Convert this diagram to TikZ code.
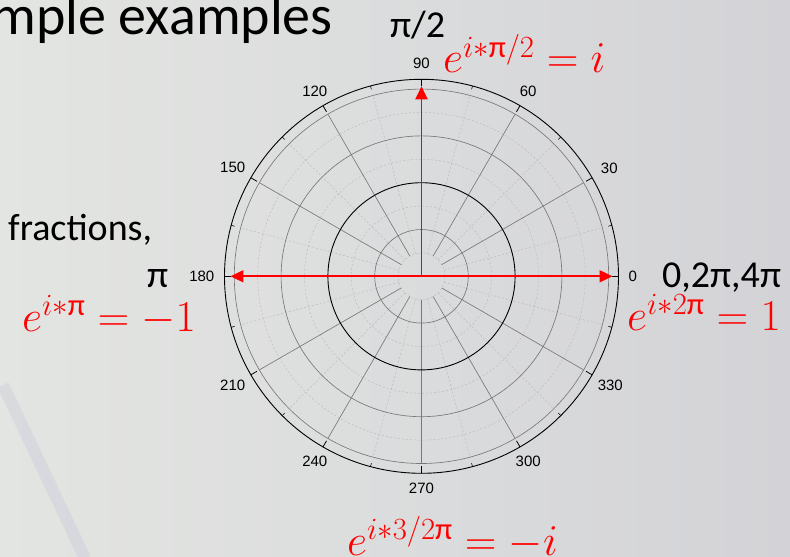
\RequirePackage{fix-cm}
\documentclass[tikz,border=0pt]{standalone}
\usepackage{amsmath}
\usepackage{fontspec}
\setmainfont{Carlito}
\newfontfamily\axisfont{Liberation Sans}
\usetikzlibrary{arrows.meta}
\definecolor{bgleft}{RGB}{227,229,226}
\definecolor{bgright}{RGB}{211,211,215}
\definecolor{gridgray}{RGB}{120,120,120}
\definecolor{minorgray}{RGB}{188,188,188}
\definecolor{streak}{RGB}{180,180,212}
\definecolor{expred}{RGB}{255,0,0}
\newcommand{\ppi}{\text{π}}

\begin{document}
\begin{tikzpicture}[x=1pt, y=1pt,
  gridline/.style={gridgray, line width=0.65pt},
  minorline/.style={minorgray, line width=0.5pt, dash pattern=on 2pt off 2pt},
  ring/.style={black, line width=0.9pt},
  ticklabel/.style={font=\axisfont\fontsize{15}{17}\selectfont, inner sep=0pt},
  vector/.style={expred, line width=1.9pt, -{Triangle[length=13pt, width=12pt]}},
  slidetext/.style={font=\fontsize{38}{44}\selectfont, inner sep=0pt},
  euler/.style={text=expred, font=\fontsize{44}{50}\selectfont, inner sep=0pt}]

  % slide background
  \shade[left color=bgleft, right color=bgright] (-421.5,-280.7) rectangle (368.5,276.3);
  \useasboundingbox (-421.5,-280.7) rectangle (368.5,276.3);
  \draw[streak, line width=12pt, opacity=0.22] (-418.5,-108.7) -- (-336.5,-282);

  % polar grid
  \foreach \r in {23.4,70.2,117,163.8}
    \draw[minorline] (0,0) circle[radius=\r pt];
  \foreach \a in {15,45,...,345}
    \draw[minorline] (\a:23.4) -- (\a:187.2);
  \foreach \a in {0,30,...,330}
    \draw[gridline] (\a:23.4) -- (\a:187.2);
  \foreach \r in {46.8,140.4,187.2}
    \draw[gridline] (0,0) circle[radius=\r pt];
  \draw[ring] (0,0) circle[radius=93.6pt];
  \draw[ring] (0,0) circle[radius=197pt];

  % ticks and angle labels
  \foreach \a in {0,30,...,330}
    \draw[black, line width=0.8pt] (\a:197) -- (\a:190);
  \foreach \a in {15,45,...,345}
    \draw[black, line width=0.6pt] (\a:197) -- (\a:193.5);
  \foreach \a [evaluate=\a as \opp using {int(mod(\a+180,360))}] in {0,30,...,330}
    \node[ticklabel, anchor=\opp] (deg\a) at (\a:207) {\a};

  % unit vectors
  \coordinate (o) at (0,0);
  \coordinate (east) at (0:191);
  \coordinate (north) at (90:190);
  \coordinate (west) at (180:191);
  \draw[vector] (o) -- (north);
  \draw[vector] (o) -- (east);
  \draw[vector] (o) -- (west);

  % slide text
  \node[font=\fontsize{56}{64}\selectfont, inner sep=0pt, anchor=base east] (title)
    at (-88.5,241.3) {mple examples};
  \node[slidetext, anchor=base west] (halfpi) at (-31.5,238.3) {π/2};
  \node[slidetext, anchor=base west] (fullpi) at (-274.5,-10.7) {π};
  \node[slidetext, anchor=base west] (zeropi) at (240.5,-10.7) {0,2π,4π};
  \node[slidetext, anchor=base west] (frac) at (-413.5,35.3) {fractions,};

  % Euler values
  \node[euler, anchor=base west] (eup) at (21.5,203.3) {$e^{i*\ppi/2}=i$};
  \node[euler, anchor=base west] (eleft) at (-399.5,-54.7) {$e^{i*\ppi}=-1$};
  \node[euler, anchor=base west] (eright) at (205.5,-53.7) {$e^{i*2\ppi}=1$};
  \node[euler, anchor=base west] (edown) at (-74.5,-278.7) {$e^{i*3/2\ppi}=-i$};
\end{tikzpicture}
\end{document}
